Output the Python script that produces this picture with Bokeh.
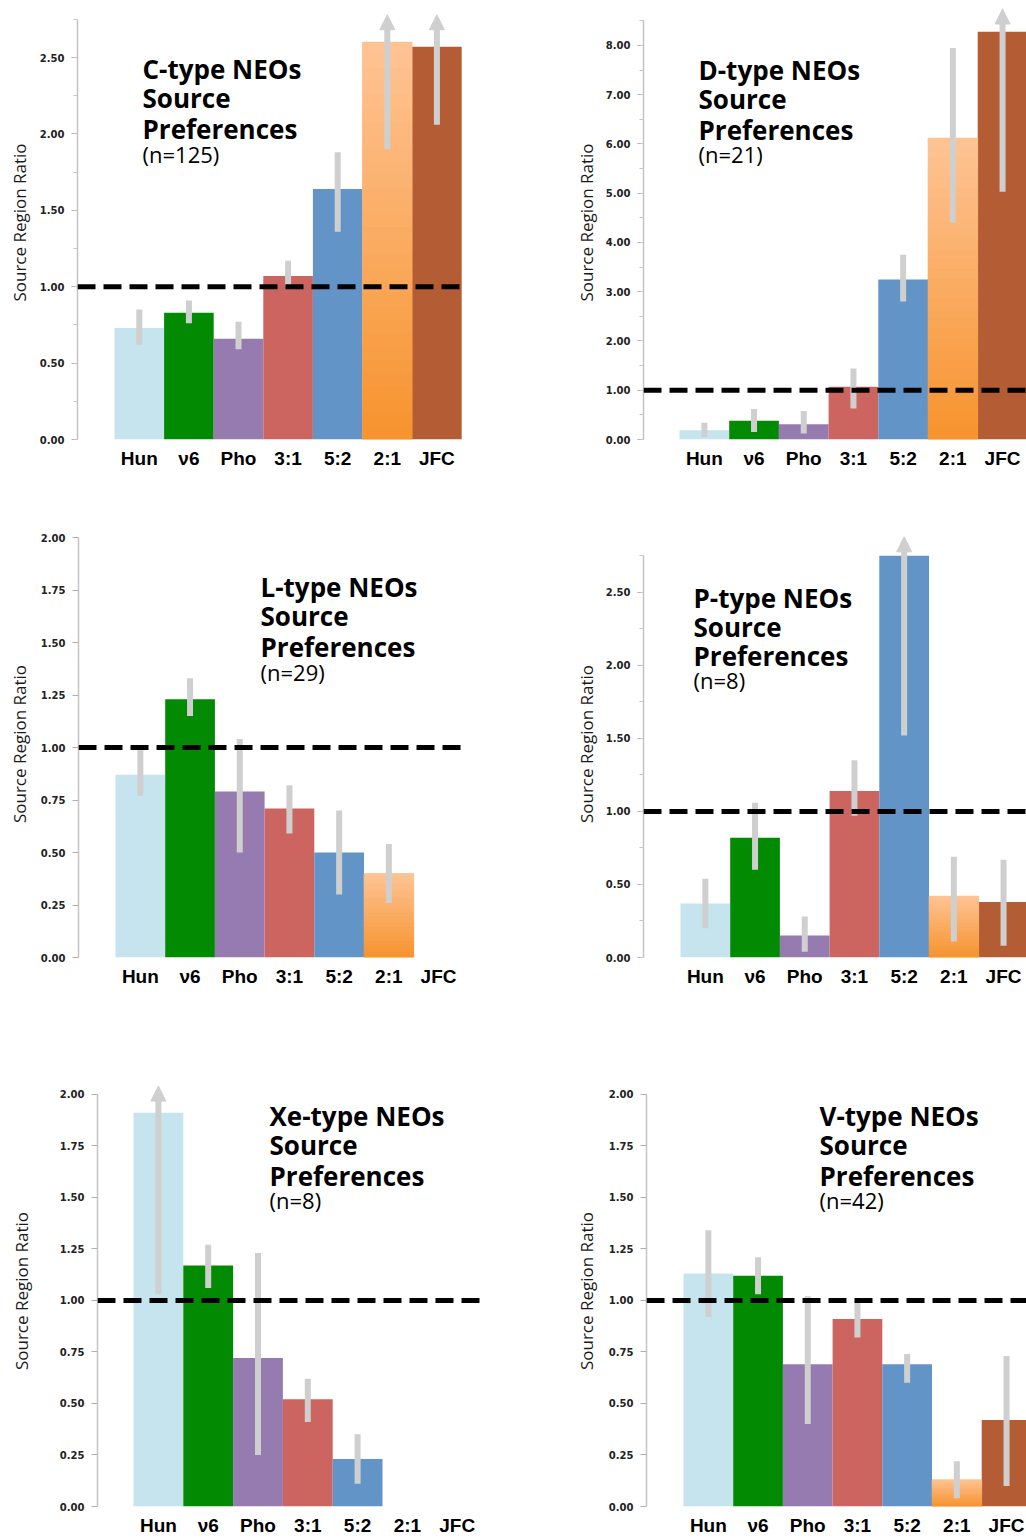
import numpy as np
from bokeh.plotting import figure
from bokeh.layouts import column, row
from bokeh.models import (Range1d, FixedTicker, SingleIntervalTicker, NumeralTickFormatter,
                          Span, Label, Arrow, NormalHead, ColumnDataSource)
from bokeh.embed import file_html
from bokeh.resources import INLINE

# ---------------- data ----------------
categories = ["Hun", "ν6", "Pho", "3:1", "5:2", "2:1", "JFC"]

c_ratio = [0.73, 0.83, 0.66, 1.07, 1.64, 2.60, 2.57]
c_lo    = [0.62, 0.76, 0.59, 1.01, 1.36, 1.90, 2.06]
c_hi    = [0.85, 0.91, 0.77, 1.17, 1.88, 2.78, 2.78]
c_open  = [False, False, False, False, False, True, True]
c_n = 125

d_ratio = [0.19, 0.38, 0.31, 1.07, 3.25, 6.12, 8.28]
d_lo    = [0.05, 0.15, 0.12, 0.63, 2.80, 4.40, 5.03]
d_hi    = [0.34, 0.62, 0.58, 1.44, 3.75, 7.95, 8.74]
d_open  = [False, False, False, False, False, False, True]
d_n = 21

l_ratio = [0.87, 1.23, 0.79, 0.71, 0.50, 0.40, None]
l_lo    = [0.77, 1.15, 0.50, 0.59, 0.30, 0.26, None]
l_hi    = [0.99, 1.33, 1.04, 0.82, 0.70, 0.54, None]
l_open  = [False] * 7
l_n = 29

p_ratio = [0.37, 0.82, 0.15, 1.14, 2.75, 0.42, 0.38]
p_lo    = [0.20, 0.60, 0.04, 0.97, 1.52, 0.11, 0.08]
p_hi    = [0.54, 1.06, 0.28, 1.35, 2.88, 0.69, 0.67]
p_open  = [False, False, False, False, True, False, False]
p_n = 8

xe_ratio = [1.91, 1.17, 0.72, 0.52, 0.23, None, None]
xe_lo    = [1.03, 1.06, 0.25, 0.41, 0.11, None, None]
xe_hi    = [2.04, 1.27, 1.23, 0.62, 0.35, None, None]
xe_open  = [True, False, False, False, False, False, False]
xe_n = 8

v_ratio = [1.13, 1.12, 0.69, 0.91, 0.69, 0.13, 0.42]
v_lo    = [0.92, 1.03, 0.40, 0.82, 0.60, 0.04, 0.10]
v_hi    = [1.34, 1.21, 1.02, 1.00, 0.74, 0.22, 0.73]
v_open  = [False] * 7
v_n = 42

# ---------------- styles ----------------
bar_colors = ["#c5e4ed", "#028a02", "#957bb0", "#cc6560", "#6294c8", "#f9ae68", "#b45d35"]
grad_top = np.array([0xfe, 0xc4, 0x95])
grad_bot = np.array([0xf6, 0x93, 0x2d])
err_color = "#cfcfcf"


def make_panel(name, ratio, lo, hi, is_open, n, lay):
    fl, ft, fw, fh = lay["fig"]
    ax, fr = lay["axis_x"], lay["frame_right"]
    y0, sc, ftop = lay["y0"], lay["scale"], lay["frame_top"]
    bs, bw = lay["bar_start"], lay["bar_w"]
    xs = -0.5 - (bs - ax) / bw
    xe = xs + (fr - ax) / bw
    ye = (y0 - ftop) / sc

    p = figure(width=fw, height=fh, x_range=Range1d(xs, xe), y_range=Range1d(0, ye),
               output_backend="svg", toolbar_location=None,
               min_border_left=ax - fl, min_border_right=fl + fw - fr,
               min_border_top=ftop - ft, min_border_bottom=ft + fh - y0)
    p.outline_line_color = None
    p.xgrid.visible = False
    p.ygrid.visible = False
    p.background_fill_color = "white"
    p.border_fill_color = "white"

    idx = [i for i, v in enumerate(ratio) if v is not None]
    src = ColumnDataSource(dict(x=idx, top=[ratio[i] for i in idx],
                                color=[bar_colors[i] for i in idx]))
    p.vbar(x="x", top="top", bottom=0, width=1.0, fill_color="color",
           line_color=None, source=src)

    # gradient on the 2:1 bar
    k = categories.index("2:1")
    if ratio[k] is not None:
        ns = 30
        t = np.linspace(0, ratio[k], ns + 1)
        cols = []
        for j in range(ns):
            f = (j + 0.5) / ns
            c = grad_bot * (1 - f) + grad_top * f
            cols.append("#%02x%02x%02x" % tuple(int(round(v)) for v in c))
        p.quad(left=k - 0.5, right=k + 0.5, bottom=t[:-1], top=t[1:],
               fill_color=cols, line_color=cols, line_width=0.6)

    seg = [i for i in idx if not is_open[i]]
    p.segment(x0=seg, y0=[lo[i] for i in seg], x1=seg, y1=[hi[i] for i in seg],
              line_color=err_color, line_width=6)
    for i in idx:
        if is_open[i]:
            p.add_layout(Arrow(end=NormalHead(size=15, fill_color=err_color, line_color=err_color),
                               x_start=i, y_start=lo[i], x_end=i, y_end=hi[i],
                               line_color=err_color, line_width=6))

    p.add_layout(Span(location=1.0, dimension="width", line_color="black",
                      line_width=5, line_dash="18 8", level="overlay"))

    # axes
    p.xaxis.ticker = FixedTicker(ticks=list(range(len(categories))))
    p.xaxis.major_label_overrides = {i: c for i, c in enumerate(categories)}
    p.xaxis.axis_line_color = None
    p.xaxis.major_tick_line_color = None
    p.xaxis.minor_tick_line_color = None
    p.xaxis.major_label_standoff = 2
    p.xaxis.major_label_text_font = "Liberation Sans"
    p.xaxis.major_label_text_font_style = "bold"
    p.xaxis.major_label_text_font_size = "19px"
    p.xaxis.major_label_text_color = "black"

    p.yaxis.bounds = (0, lay["axis_top"])
    p.yaxis.ticker = SingleIntervalTicker(interval=lay["tick"], num_minor_ticks=lay["minor"])
    p.yaxis.formatter = NumeralTickFormatter(format="0.00")
    p.yaxis.axis_line_color = "#c4c4c4"
    p.yaxis.axis_line_width = 1.5
    p.yaxis.major_tick_line_color = "#b0b0b0"
    p.yaxis.minor_tick_line_color = "#c4c4c4"
    p.yaxis.major_tick_in = 0
    p.yaxis.minor_tick_in = 0
    p.yaxis.major_tick_out = 6
    p.yaxis.minor_tick_out = 4
    p.yaxis.major_label_standoff = 7
    p.yaxis.major_label_text_font = "DejaVu Sans"
    p.yaxis.major_label_text_font_style = "bold"
    p.yaxis.major_label_text_font_size = "10px"
    p.yaxis.major_label_text_color = "#222222"
    p.yaxis.axis_label = "Source Region Ratio"
    p.yaxis.axis_label_text_font = "Open Sans"
    p.yaxis.axis_label_text_font_style = "normal"
    p.yaxis.axis_label_text_font_size = "17px"
    p.yaxis.axis_label_text_color = "#1a1a1a"
    p.yaxis.axis_label_standoff = lay["label_standoff"]

    # title block
    tx, tb = lay["title"]

    def dx(px):
        return xs + (px - ax) / bw

    def dy(py):
        return (y0 - py) / sc

    lines = [f"{name}-type NEOs", "Source", "Preferences"]
    offs = [0, 29.5, 60]
    for t, o in zip(lines, offs):
        p.add_layout(Label(x=dx(tx), y=dy(tb + o), text=t, text_font="Open Sans",
                           text_font_style="bold", text_font_size="26px",
                           text_color="black", text_baseline="alphabetic"))
    p.add_layout(Label(x=dx(tx), y=dy(tb + 85), text=f"(n={n})", text_font="Open Sans",
                       text_font_size="22px", text_color="black",
                       text_baseline="alphabetic"))
    return p


L1, L2 = 0, 570
W1, W2 = 570, 456
T1, T2, T3 = 0, 505, 1050
H1, H2, H3 = 505, 545, 488

lay_c = dict(fig=(L1, T1, W1, H1), axis_x=77, frame_right=465, y0=439, scale=152.8,
             frame_top=5, bar_start=114, bar_w=49.6, axis_top=2.75, tick=0.5, minor=2,
             label_standoff=6, title=(142, 68))
lay_d = dict(fig=(L2, T1, W2, H1), axis_x=643, frame_right=1026, y0=440, scale=49.6,
             frame_top=3, bar_start=679, bar_w=49.7, axis_top=8.5, tick=1.0, minor=2,
             label_standoff=5, title=(698, 68))
lay_l = dict(fig=(L1, T2, W1, H2), axis_x=78, frame_right=463, y0=957, scale=210.0,
             frame_top=530, bar_start=115, bar_w=49.7, axis_top=2.0, tick=0.25, minor=0,
             label_standoff=7, title=(260, 586))
lay_p = dict(fig=(L2, T2, W2, H2), axis_x=643, frame_right=1026, y0=962, scale=152.9,
             frame_top=515, bar_start=680, bar_w=49.7, axis_top=2.75, tick=0.5, minor=2,
             label_standoff=5, title=(693, 586))
lay_xe = dict(fig=(L1, T3, W1, H3), axis_x=97, frame_right=482, y0=1510, scale=208.0,
              frame_top=1075, bar_start=133, bar_w=49.8, axis_top=2.0, tick=0.25, minor=0,
              label_standoff=24, title=(269, 1116))
lay_v = dict(fig=(L2, T3, W2, H3), axis_x=646, frame_right=1026, y0=1510, scale=208.0,
             frame_top=1075, bar_start=683, bar_w=49.7, axis_top=2.0, tick=0.25, minor=0,
             label_standoff=8, title=(819, 1116))

pc = make_panel("C", c_ratio, c_lo, c_hi, c_open, c_n, lay_c)
pd_ = make_panel("D", d_ratio, d_lo, d_hi, d_open, d_n, lay_d)
pl = make_panel("L", l_ratio, l_lo, l_hi, l_open, l_n, lay_l)
pp = make_panel("P", p_ratio, p_lo, p_hi, p_open, p_n, lay_p)
pxe = make_panel("Xe", xe_ratio, xe_lo, xe_hi, xe_open, xe_n, lay_xe)
pv = make_panel("V", v_ratio, v_lo, v_hi, v_open, v_n, lay_v)

layout = column(row(pc, pd_), row(pl, pp), row(pxe, pv))

with open("out.html", "w") as f:
    f.write(file_html(layout, INLINE))
